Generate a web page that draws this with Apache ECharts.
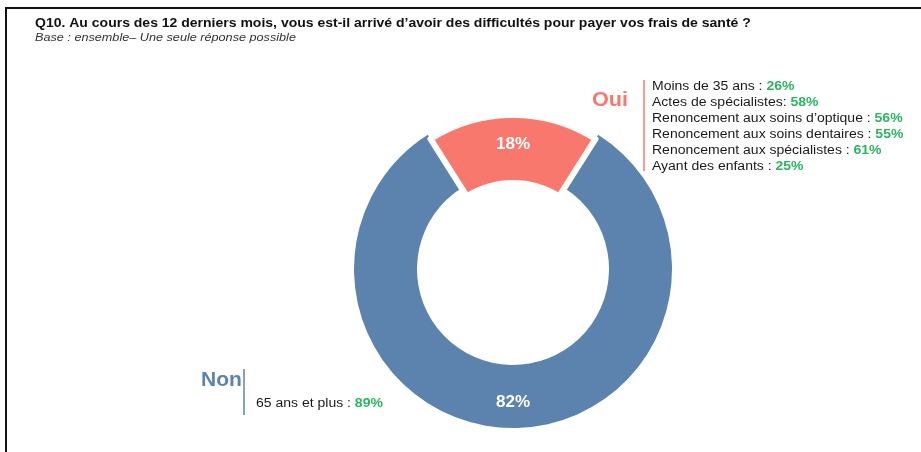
<!DOCTYPE html>
<html>
<head>
<meta charset="utf-8">
<script src="https://cdn.jsdelivr.net/npm/echarts@6/dist/echarts.min.js"></script>
<style>
  html, body { margin: 0; padding: 0; background: #fff; }
  #chart { width: 921px; height: 452px; }
</style>
</head>
<body>
<div id="chart"></div>
<script>
var categories = ['Oui', 'Non']
var values = [18, 82]
var ouiDetails = [
  ['Moins de 35 ans : ', '26%'],
  ['Actes de spécialistes: ', '58%'],
  ['Renoncement aux soins d\u2019optique : ', '56%'],
  ['Renoncement aux soins dentaires : ', '55%'],
  ['Renoncement aux spécialistes : ', '61%'],
  ['Ayant des enfants : ', '25%']
]
var nonDetails = [
  ['65 ans et plus : ', '89%']
]
var titleText = 'Q10. Au cours des 12 derniers mois, vous est-il arrivé d\u2019avoir des difficultés pour payer vos frais de santé ?'
var subText = 'Base : ensemble\u2013 Une seule réponse possible'

var pink = '#f8786d'
var blue = '#5b83ad'
var green = '#2bb562'
var font = 'Liberation Sans, Arial, sans-serif'
// the source picture is slightly stretched horizontally
var stretch = 1.12

var myChart = echarts.init(document.getElementById('chart'))

function pieData (showIdx, color) {
  return categories.map(function (name, i) {
    var item = { name: name, value: values[i] }
    if (i !== showIdx) {
      item.itemStyle = { color: 'rgba(0,0,0,0)', borderWidth: 0 }
      item.label = { show: false }
    } else {
      item.itemStyle = { color: color }
    }
    return item
  })
}

function detailText (rows) {
  return rows.map(function (r) {
    return '{t|' + r[0] + '}{g|' + r[1] + '}'
  }).join('\n')
}

var detailRich = {
  t: { fontSize: 12.5, fill: '#1a1a1a', fontFamily: font, lineHeight: 16 },
  g: { fontSize: 12.5, fill: green, fontWeight: 'bold', fontFamily: font, lineHeight: 16 }
}

var option = {
  backgroundColor: '#ffffff',
  animation: false,
  series: [{
    // Non
    type: 'pie',
    radius: [96, 159],
    center: [513, 269],
    startAngle: 90 + values[0] * 1.8,
    clockwise: true,
    silent: true,
    data: pieData(1, blue),
    label: {
      position: 'inside',
      formatter: '{c}%',
      color: '#fff',
      fontSize: 17,
      fontWeight: 'bold',
      fontFamily: font,
      offset: [0, 3]
    },
    labelLine: { show: false }
  }, {
    // Oui
    type: 'pie',
    radius: [86, 154],
    center: [513, 269],
    startAngle: 90 + values[0] * 1.8,
    clockwise: true,
    silent: true,
    z: 3,
    data: pieData(0, pink),
    itemStyle: { borderColor: '#ffffff', borderWidth: 6 },
    label: {
      position: 'inside',
      formatter: '{c}%',
      color: '#fff',
      fontSize: 17,
      fontWeight: 'bold',
      fontFamily: font,
      offset: [0, -2]
    },
    labelLine: { show: false }
  }],
  graphic: [
    // frame
    { type: 'line', shape: { x1: 5, y1: 8, x2: 921, y2: 8 }, style: { stroke: '#111', lineWidth: 2 } },
    { type: 'line', shape: { x1: 6, y1: 8, x2: 6, y2: 452 }, style: { stroke: '#111', lineWidth: 2 } },
    // title
    { type: 'text', x: 35, y: 24, scaleX: stretch,
      style: { text: titleText, fill: '#111', font: 'bold 12.5px ' + font, verticalAlign: 'middle' } },
    { type: 'text', x: 35, y: 38, scaleX: stretch,
      style: { text: subText, fill: '#333', font: 'italic 11.3px ' + font, verticalAlign: 'middle' } },
    // Oui block
    { type: 'text', x: 592, y: 100, scaleX: 1.08,
      style: { text: categories[0], fill: pink, font: 'bold 20px ' + font, verticalAlign: 'middle' } },
    { type: 'line', shape: { x1: 644, y1: 80, x2: 644, y2: 171 }, style: { stroke: pink, lineWidth: 1.5 } },
    { type: 'text', x: 652, y: 79, scaleX: stretch,
      style: { text: detailText(ouiDetails), rich: detailRich, verticalAlign: 'top' } },
    // Non block
    { type: 'text', x: 201, y: 380, scaleX: 1.05,
      style: { text: categories[1], fill: blue, font: 'bold 20px ' + font, verticalAlign: 'middle' } },
    { type: 'line', shape: { x1: 244, y1: 369, x2: 244, y2: 415 }, style: { stroke: blue, lineWidth: 1.5 } },
    { type: 'text', x: 256, y: 396, scaleX: stretch,
      style: { text: detailText(nonDetails), rich: detailRich, verticalAlign: 'top' } }
  ]
}

myChart.setOption(option)
window.onresize = myChart.resize
</script>
</body>
</html>
